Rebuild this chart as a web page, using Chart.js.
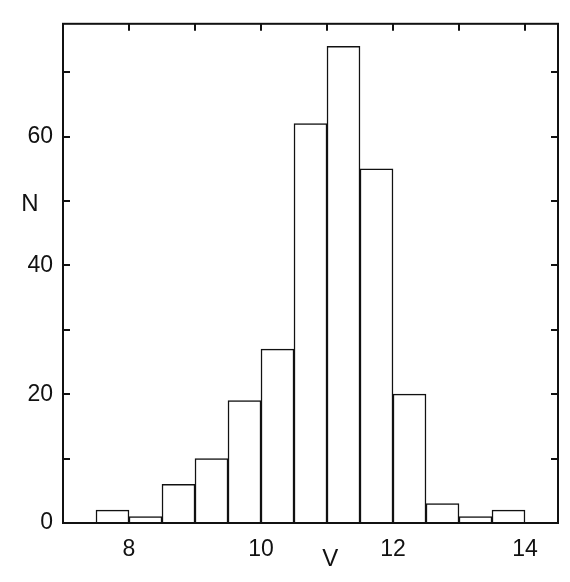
<!DOCTYPE html>
<html>
<head>
<meta charset="utf-8">
<script src="https://cdn.jsdelivr.net/npm/chart.js"></script>
<style>
  html, body { margin: 0; padding: 0; background: #fff; }
  canvas { display: block; }
</style>
</head>
<body>
<canvas id="chartCanvas" width="570" height="582"></canvas>
<script>
// histogram bins (V magnitude, 0.5 wide) and counts N
const binStarts = [7.5, 8, 8.5, 9, 9.5, 10, 10.5, 11, 11.5, 12, 12.5, 13, 13.5];
const counts = [2, 1, 6, 10, 19, 27, 62, 74, 55, 20, 3, 1, 2];
const binWidth = 0.5;

const xTickMarks = [8, 9, 10, 11, 12, 13, 14];
const xTickLabels = [8, 10, 12, 14];
const yTickMarks = [10, 20, 30, 40, 50, 60, 70];
const yTickLabels = [0, 20, 40, 60];

const ink = '#111';
const font = "'Liberation Sans', 'DejaVu Sans', sans-serif";

const framePlugin = {
  id: 'frame',
  afterDraw(chart) {
    const { ctx, chartArea: a, scales: { x, y } } = chart;
    ctx.save();
    ctx.strokeStyle = ink;
    ctx.lineWidth = 2;
    ctx.strokeRect(a.left, a.top, a.right - a.left, a.bottom - a.top);

    // inward ticks
    ctx.beginPath();
    xTickMarks.forEach(v => {
      const px = Math.round(x.getPixelForValue(v));
      ctx.moveTo(px, a.top);
      ctx.lineTo(px, a.top + 7);
    });
    yTickMarks.forEach(v => {
      const py = Math.round(y.getPixelForValue(v));
      ctx.moveTo(a.left, py);
      ctx.lineTo(a.left + 7, py);
      ctx.moveTo(a.right, py);
      ctx.lineTo(a.right - 7, py);
    });
    ctx.stroke();

    // axis names
    ctx.fillStyle = ink;
    ctx.font = '24px ' + font;
    ctx.textAlign = 'center';
    ctx.textBaseline = 'middle';
    ctx.fillText('N', 30, y.getPixelForValue(49.4));
    ctx.fillText('V', x.getPixelForValue(11.05), 559);
    ctx.restore();
  }
};

new Chart(document.getElementById('chartCanvas').getContext('2d'), {
  type: 'bar',
  data: {
    datasets: [{
      data: binStarts.map((s, i) => ({ x: s + binWidth / 2, y: counts[i] })),
      backgroundColor: '#fff',
      borderColor: ink,
      borderWidth: 1.5,
      barPercentage: 1,
      categoryPercentage: 1
    }]
  },
  options: {
    responsive: false,
    animation: false,
    layout: { padding: { top: 12, right: 12, left: 0, bottom: 0 } },
    plugins: { legend: { display: false }, tooltip: { enabled: false } },
    scales: {
      x: {
        type: 'linear',
        min: 7,
        max: 14.5,
        offset: false,
        grid: { display: false, drawTicks: false, offset: false },
        border: { display: false },
        afterFit: s => { s.height = 59; },
        afterBuildTicks: s => { s.ticks = xTickLabels.map(v => ({ value: v })); },
        ticks: {
          padding: 13,
          color: ink,
          font: { family: font, size: 23 },
          maxRotation: 0,
          autoSkip: false
        }
      },
      y: {
        min: 0,
        max: 77.5,
        grid: { display: false, drawTicks: false },
        border: { display: false },
        afterFit: s => { s.width = 63; },
        afterBuildTicks: s => { s.ticks = yTickLabels.map(v => ({ value: v })); },
        ticks: {
          padding: 10,
          color: ink,
          font: { family: font, size: 23 },
          autoSkip: false
        }
      }
    }
  },
  plugins: [framePlugin]
});
</script>
</body>
</html>
